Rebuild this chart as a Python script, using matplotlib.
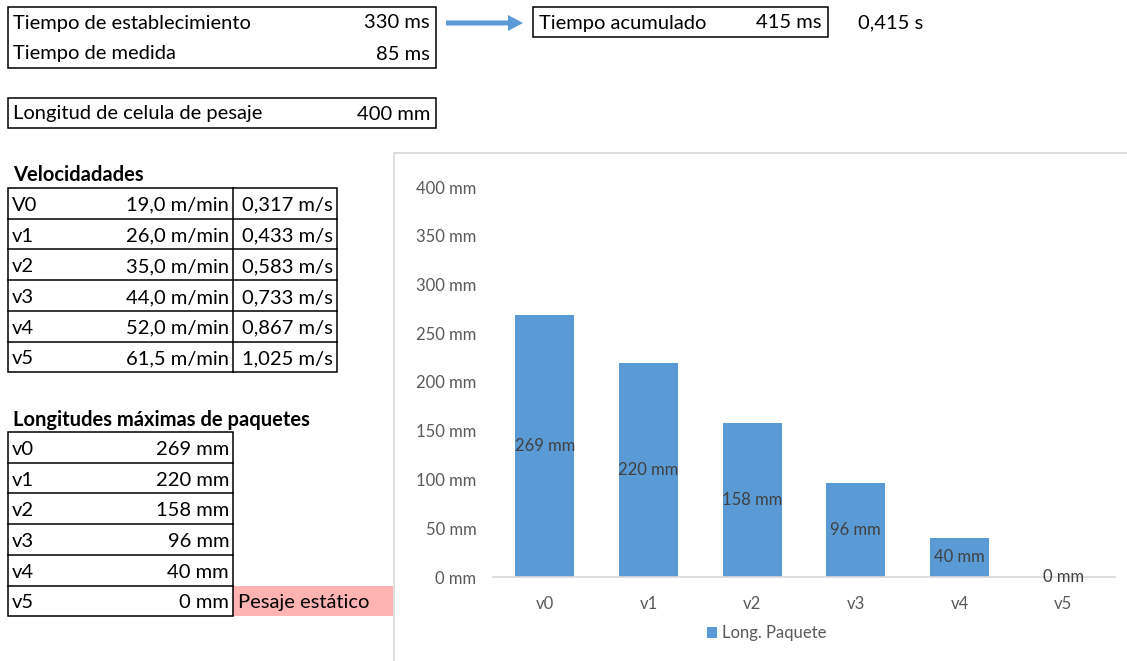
import matplotlib.pyplot as plt
import matplotlib.patches as mpatches

# ── Data ──────────────────────────────────────────────────────────────────────
t_establecimiento_ms = 330
t_medida_ms = 85
t_acumulado_ms = 415
t_acumulado_s = "0,415 s"
longitud_celula_mm = 400

vel_labels = ["V0", "v1", "v2", "v3", "v4", "v5"]
vel_m_min = [19.0, 26.0, 35.0, 44.0, 52.0, 61.5]
vel_m_s = [0.317, 0.433, 0.583, 0.733, 0.867, 1.025]

categorias = ["v0", "v1", "v2", "v3", "v4", "v5"]
long_paquete_mm = [269, 220, 158, 96, 40, 0]

BLUE = "#5B9BD5"
GRID = "#D9D9D9"
TXT = "#000000"
AXTXT = "#595959"
SHEET_FONT = "Lato"
FS = 14.5
AXFS = 12


def coma(v, dec):
    return f"{v:.{dec}f}".replace(".", ",")


W, H = 1127, 661
fig = plt.figure(figsize=(W / 100, H / 100), dpi=100)

# ── Spreadsheet layer in pixel coordinates ────────────────────────────────────
sh = fig.add_axes([0, 0, 1, 1])
sh.set_xlim(0, W)
sh.set_ylim(H, 0)
sh.axis("off")


def box(x0, y0, x1, y1, **kw):
    sh.add_patch(mpatches.Rectangle((x0, y0), x1 - x0, y1 - y0, fill=False,
                                    edgecolor="black", lw=1.1, **kw))


def txt(x, y, s, ha="left", bold=False, color=TXT, size=FS):
    sh.text(x, y, s, ha=ha, va="center", fontsize=size, color=color,
            family=SHEET_FONT, fontweight="bold" if bold else "normal")


# Times block
box(8, 7, 436, 68)
txt(13, 23, "Tiempo de establecimiento")
txt(430, 23, f"{t_establecimiento_ms} ms", ha="right")
txt(13, 54, "Tiempo de medida")
txt(430, 54, f"{t_medida_ms} ms", ha="right")

sh.add_patch(mpatches.FancyArrow(446, 23, 62, 0, width=5, head_width=16,
                                 head_length=15, color=BLUE, lw=0))

box(533, 7, 828, 37)
txt(539, 23, "Tiempo acumulado")
txt(822, 23, f"{t_acumulado_ms} ms", ha="right")
txt(858, 23, t_acumulado_s)

box(8, 98, 436, 128)
txt(13, 114, "Longitud de celula de pesaje")
txt(430, 114, f"{longitud_celula_mm} mm", ha="right")

# Speeds table
txt(13, 175, "Velocidadades", bold=True)
top, rh = 188, 30.7
n = len(vel_labels)
box(8, top, 337, top + rh * n)
sh.plot([233, 233], [top, top + rh * n], color="black", lw=1.1)
for i, (lab, vm, vs) in enumerate(zip(vel_labels, vel_m_min, vel_m_s)):
    yc = top + rh * (i + 0.5)
    if i:
        sh.plot([8, 337], [top + rh * i] * 2, color="black", lw=1.1)
    txt(12, yc + 2, lab)
    txt(229, yc + 2, f"{coma(vm, 1)} m/min", ha="right")
    txt(333, yc + 2, f"{coma(vs, 3)} m/s", ha="right")

# Maximum package lengths table
txt(13, 420, "Longitudes máximas de paquetes", bold=True)
top2 = 432
sh.add_patch(mpatches.Rectangle((233, top2 + rh * 5), 160, rh,
                                facecolor="#FFB3B3", edgecolor="none"))
box(8, top2, 233, top2 + rh * n)
for i, (lab, v) in enumerate(zip(categorias, long_paquete_mm)):
    yc = top2 + rh * (i + 0.5)
    if i:
        sh.plot([8, 233], [top2 + rh * i] * 2, color="black", lw=1.1)
    txt(12, yc + 2, lab)
    txt(229, yc + 2, f"{v} mm", ha="right")
txt(238, top2 + rh * 5.5 + 2, "Pesaje estático")

# Chart area frame
sh.plot([393.5, 393.5, W], [H, 152.5, 152.5], color=GRID, lw=1.2)

# ── Bar chart ─────────────────────────────────────────────────────────────────
ax = fig.add_axes([493 / W, (H - 577) / H, 622 / W, 390 / H])
x = range(len(categorias))
bars = ax.bar(x, long_paquete_mm, width=0.57, color=BLUE, label="Long. Paquete")
ax.set_xlim(-0.5, len(categorias) - 0.5)
ax.set_ylim(0, 400)
ax.set_yticks(range(0, 401, 50))
ax.set_yticklabels([f"{v} mm" for v in range(0, 401, 50)])
ax.set_xticks(list(x))
ax.set_xticklabels(categorias)
ax.tick_params(length=0, labelsize=AXFS, colors=AXTXT, pad=12)
ax.tick_params(axis="x", pad=14)
for s in ["top", "right", "left"]:
    ax.spines[s].set_visible(False)
ax.spines["bottom"].set_color(GRID)
ax.spines["bottom"].set_linewidth(1.2)
ax.patch.set_alpha(0)
for lab in ax.get_xticklabels() + ax.get_yticklabels():
    lab.set_family(SHEET_FONT)

ax.bar_label(bars, labels=[f"{v} mm" for v in long_paquete_mm],
             label_type="center", fontsize=AXFS, color="#404040",
             family=SHEET_FONT)

leg = ax.legend(loc="upper center", bbox_to_anchor=(0.44, -0.085), frameon=False,
                handlelength=0.6, handleheight=0.6, handletextpad=0.3,
                prop={"family": SHEET_FONT, "size": AXFS})
for t in leg.get_texts():
    t.set_color(AXTXT)

fig.savefig("out.png", dpi=100)
